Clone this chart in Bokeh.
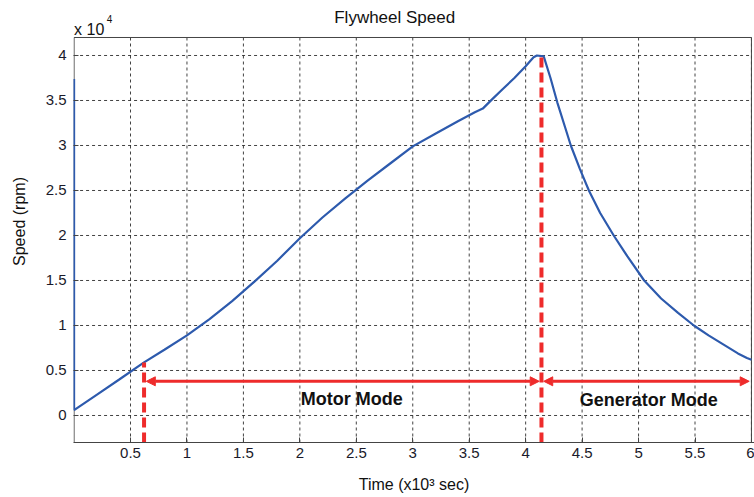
from bokeh.plotting import figure
from bokeh.models import Range1d, FixedTicker, Label, Arrow, NormalHead
from bokeh.embed import file_html
from bokeh.resources import INLINE

# Data (time in x10^3 s, speed in rpm)
time_k = [0.0, 0.0, 0.2, 0.4, 0.62, 0.8, 1.0, 1.2, 1.4, 1.6, 1.8, 2.0, 2.2, 2.4, 2.6,
          2.8, 3.0, 3.2, 3.4, 3.55, 3.62, 3.7, 3.8, 3.9, 4.0, 4.07, 4.1, 4.16,
          4.22, 4.28, 4.35, 4.40, 4.48, 4.56, 4.66, 4.78, 4.9, 5.05, 5.2, 5.35,
          5.49, 5.62, 5.75, 5.88, 5.96, 6.0]
speed = [37400, 600, 2300, 4000, 5900, 7300, 8900, 10700, 12700, 14900, 17200, 19700,
         22000, 24100, 26100, 28000, 29900, 31300, 32700, 33700, 34100, 35100, 36300,
         37500, 38800, 39800, 40000, 39900, 37500, 34800, 32000, 30000, 27400, 25000,
         22500, 20000, 17700, 15000, 13000, 11400, 10000, 8900, 7900, 6900, 6400, 6200]

x_ticks = [0.5, 1, 1.5, 2, 2.5, 3, 3.5, 4, 4.5, 5, 5.5, 6]
y_ticks = [0, 5000, 10000, 15000, 20000, 25000, 30000, 35000, 40000]
y_tick_labels = ["0", "0.5", "1", "1.5", "2", "2.5", "3", "3.5", "4"]

x_lim = [0, 6]
y_lim = [-3000, 42000]

mode_switch = [0.62, 4.14]      # red dashed markers (time)
mode_switch_top = [5900, 40000]
arrow_y = 3800
modes = ["Motor Mode", "Generator Mode"]
mode_x = [2.46, 5.09]
mode_y = [1800, 1700]

title_text = "Flywheel Speed"
exponent_base = "x 10"
exponent_power = "4"

FONT = "Liberation Sans"
X0, X1 = x_lim
Y0, Y1 = y_lim

# plotting frame extends above the axes box so that the title and the
# exponent label can be drawn inside it
p = figure(width=754, height=497, output_backend="svg", toolbar_location=None,
           x_range=Range1d(-0.005, 6.027), y_range=Range1d(Y0, 46111),
           min_border_left=73, min_border_right=0, min_border_top=0, min_border_bottom=55)
p.outline_line_color = None
p.xgrid.visible = False
p.ygrid.visible = False

for ax in (p.xaxis[0], p.yaxis[0]):
    ax.major_tick_in = 5
    ax.major_tick_out = 0
    ax.minor_tick_in = 0
    ax.minor_tick_out = 0
    ax.axis_line_color = "#444444"
    ax.major_tick_line_color = "#444444"
    ax.major_label_text_font = FONT
    ax.major_label_text_font_size = "15px"
    ax.major_label_text_color = "#1a1a2a"
    ax.axis_label_text_font = FONT
    ax.axis_label_text_font_size = "16px"
    ax.axis_label_text_font_style = "normal"
    ax.axis_label_text_color = "#111111"
p.yaxis.axis_line_color = None

p.xaxis.ticker = FixedTicker(ticks=x_ticks)
p.yaxis.ticker = FixedTicker(ticks=y_ticks)
p.yaxis.major_label_overrides = {t: l for t, l in zip(y_ticks, y_tick_labels)}
p.xaxis.axis_label = "Time (x10\u00b3 sec)"
p.yaxis.axis_label = "Speed (rpm)"
p.xaxis.major_label_standoff = 5
p.xaxis.axis_label_standoff = 15
p.yaxis.major_label_standoff = 7
p.yaxis.axis_label_standoff = 15

# grid lines (dashed), limited to the axes box
p.segment(x0=x_ticks, y0=[Y0] * len(x_ticks), x1=x_ticks, y1=[Y1] * len(x_ticks),
          line_color="#222222", line_dash="3 3", line_width=1, line_alpha=0.85)
p.segment(x0=[X0] * len(y_ticks), y0=y_ticks, x1=[X1] * len(y_ticks), y1=y_ticks,
          line_color="#222222", line_dash="3 3", line_width=1, line_alpha=0.85)

# axes box (left, top, right edges; bottom is the x axis line)
p.line([X0, X0, X1, X1], [Y0, Y1, Y1, Y0], line_color="#444444", line_width=1)

# curve
p.line(time_k, speed, line_color="#2d5aad", line_width=2.2)

# red dashed mode markers
for xs, top in zip(mode_switch, mode_switch_top):
    p.line([xs, xs], [Y0, top], line_color="#ee2b2b", line_width=4, line_dash="10 5")

# arrows
bounds = [(mode_switch[0], mode_switch[1]), (mode_switch[1], X1)]
for a, b in bounds:
    p.add_layout(Arrow(x_start=a + 0.02, y_start=arrow_y, x_end=b - 0.02, y_end=arrow_y,
                       line_color="#ee2b2b", line_width=3,
                       start=NormalHead(size=9, fill_color="#ee2b2b", line_color="#ee2b2b"),
                       end=NormalHead(size=9, fill_color="#ee2b2b", line_color="#ee2b2b")))

for txt, mx, my in zip(modes, mode_x, mode_y):
    p.add_layout(Label(x=mx, y=my, text=txt, text_align="center", text_baseline="middle",
                       text_font=FONT, text_font_size="18px", text_font_style="bold",
                       text_color="#111111"))

# title and exponent label
p.add_layout(Label(x=2.84, y=44200, text=title_text, text_align="center",
                   text_baseline="middle", text_font=FONT, text_font_size="17px",
                   text_color="#111111"))
p.add_layout(Label(x=0.0, y=42900, text=exponent_base, text_align="left",
                   text_baseline="alphabetic", text_font=FONT, text_font_size="16px",
                   text_color="#111111"))
p.add_layout(Label(x=0.29, y=44100, text=exponent_power, text_align="left",
                   text_baseline="alphabetic", text_font=FONT, text_font_size="10px",
                   text_color="#111111"))

open("out.html", "w").write(file_html(p, INLINE))
